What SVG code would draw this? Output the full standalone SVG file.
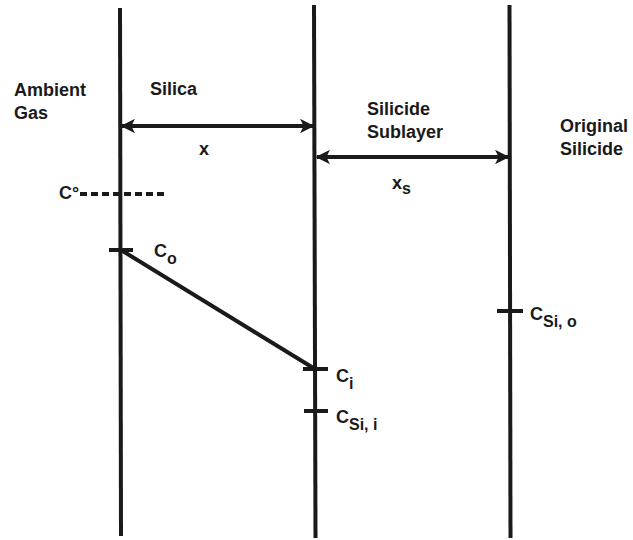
<svg xmlns="http://www.w3.org/2000/svg" width="633" height="540" viewBox="0 0 633 540">
<style>
.ln{stroke:#1a1a1a;stroke-width:4;fill:none;stroke-linecap:butt}
.tk{stroke:#1a1a1a;stroke-width:4;fill:none}
.t{font-family:"Liberation Sans",Arial,sans-serif;font-weight:bold;font-size:18px;fill:#1a1a1a}
.s{font-size:16px}
</style>
<defs>
<marker id="ah" viewBox="0 0 10 10" refX="9" refY="5" markerWidth="6" markerHeight="3.6" markerUnits="strokeWidth" orient="auto-start-reverse">
<path d="M0,0 L10,5 L0,10 L2.5,5 Z" fill="#1a1a1a"/>
</marker>
</defs>
<rect width="633" height="540" fill="#fff"/>
<g id="boundaries">
<line class="ln" x1="120" y1="8" x2="121" y2="536"/>
<line class="ln" x1="314" y1="5" x2="315.5" y2="538"/>
<line class="ln" x1="509.5" y1="5" x2="510.5" y2="538"/>
</g>
<g id="connectors">
<line class="ln" x1="122" y1="126" x2="313" y2="126" marker-start="url(#ah)" marker-end="url(#ah)"/>
<line class="ln" x1="317" y1="157" x2="508" y2="157" marker-start="url(#ah)" marker-end="url(#ah)"/>
<line class="ln" x1="80" y1="194" x2="166" y2="194" stroke-dasharray="7,4"/>
<line class="ln" x1="121" y1="250" x2="315" y2="369"/>
</g>
<g id="ticks">
<line class="tk" x1="109" y1="250" x2="133" y2="250"/>
<line class="tk" x1="303" y1="369" x2="328" y2="369"/>
<line class="tk" x1="304" y1="411" x2="328" y2="411"/>
<line class="tk" x1="497" y1="311" x2="523" y2="311"/>
</g>
<g id="labels">
<text class="t" x="14" y="96">Ambient</text>
<text class="t" x="14" y="119">Gas</text>
<text class="t" x="150" y="95">Silica</text>
<text class="t" x="199" y="155">x</text>
<text class="t" x="367" y="115">Silicide</text>
<text class="t" x="367" y="138">Sublayer</text>
<text class="t" x="392" y="189">x<tspan class="s" dy="5">s</tspan></text>
<text class="t" x="560" y="132">Original</text>
<text class="t" x="560" y="155">Silicide</text>
<text class="t" x="59" y="199">C°</text>
<text class="t" x="154" y="257">C<tspan class="s" dy="7">o</tspan></text>
<text class="t" x="336" y="382">C<tspan class="s" dy="7">i</tspan></text>
<text class="t" x="336" y="423">C<tspan class="s" dy="7">Si, i</tspan></text>
<text class="t" x="530" y="320">C<tspan class="s" dy="7">Si, o</tspan></text>
</g>
</svg>
